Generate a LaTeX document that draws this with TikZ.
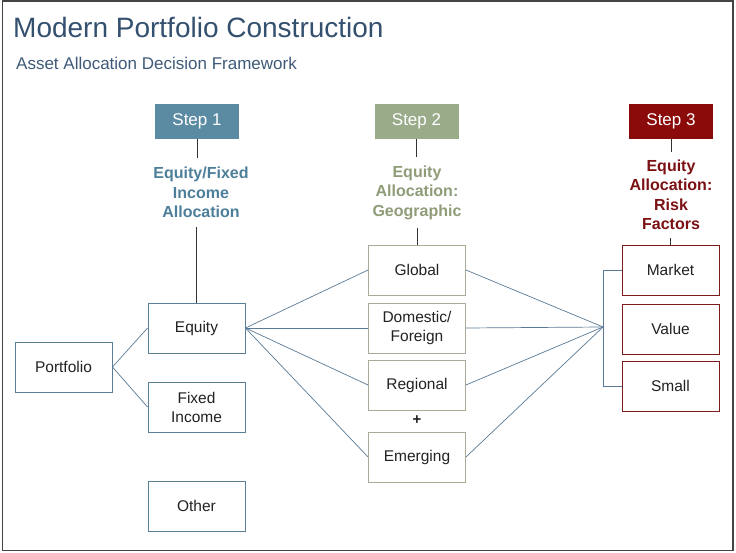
\documentclass[tikz,border=0pt]{standalone}
\usepackage{fontspec}
\setmainfont{Liberation Sans}
\definecolor{titleblue}{HTML}{33506F}
\definecolor{subblue}{HTML}{3F5A78}
\definecolor{steelfill}{HTML}{5A8BA3}
\definecolor{sagefill}{HTML}{9AAB8A}
\definecolor{redfill}{HTML}{8B0A0A}
\definecolor{lab1}{HTML}{4E7F9A}
\definecolor{lab2}{HTML}{8E9C78}
\definecolor{lab3}{HTML}{7B1113}
\definecolor{bord1}{HTML}{5C7F99}
\definecolor{bord2}{HTML}{A9AD97}
\definecolor{bord3}{HTML}{7F1A1A}
\definecolor{conn}{HTML}{5B7A95}
\definecolor{boxtext}{HTML}{222222}
\definecolor{frame}{HTML}{444444}
\tikzset{
  stepbox/.style={minimum width=84pt, minimum height=35pt, inner sep=0pt, text=white, font=\fontsize{17}{20}\selectfont},
  catbox/.style={draw, line width=0.9pt, minimum width=97pt, minimum height=50pt, inner sep=0pt, text=boxtext, align=center, font=\fontsize{15.5}{19}\selectfont},
  steplabel/.style={align=center, inner xsep=0pt, font=\bfseries\fontsize{16}{19.5}\selectfont},
  link/.style={draw=conn, line width=0.7pt},
  stem/.style={draw=black!80, line width=0.9pt}
}
\begin{document}
\begin{tikzpicture}[x=1pt,y=-1pt]
\useasboundingbox (0,0) rectangle (736,553);
\fill[white] (0,0) rectangle (736,553);
\draw[frame, line width=1.2pt] (2.5,1) rectangle (733,550.5);

\node[anchor=base west, text=titleblue, font=\fontsize{28}{32}\selectfont, inner sep=0pt] (title) at (13,38) {Modern Portfolio Construction};
\node[anchor=base west, text=subblue, font=\fontsize{17}{20}\selectfont, inner sep=0pt] (sub) at (16,70) {Asset Allocation Decision Framework};

% step boxes
\node[stepbox, fill=steelfill] (s1) at (197,121.5) {Step 1};
\node[stepbox, fill=sagefill] (s2) at (416.5,121.5) {Step 2};
\node[stepbox, fill=redfill] (s3) at (671,121.5) {Step 3};

% labels
\node[steplabel, text=lab1, inner ysep=9pt] (l1) at (201,192.5) {Equity/Fixed\\Income\\Allocation};
\node[steplabel, text=lab2, inner ysep=8pt] (l2) at (417,192.5) {Equity\\Allocation:\\Geographic};
\node[steplabel, text=lab3, inner ysep=8pt] (l3) at (671,195) {Equity\\Allocation:\\Risk\\Factors};

% left column
\node[catbox, draw=bord1] (port) at (63.5,367) {Portfolio};
\node[catbox, draw=bord1] (eq) at (196.5,328) {Equity};
\node[catbox, draw=bord1] (fi) at (196.5,407) {Fixed\\Income};
\node[catbox, draw=bord1] (oth) at (196.5,506) {Other};

% middle column
\node[catbox, draw=bord2] (glob) at (417,270) {Global};
\node[catbox, draw=bord2] (dom) at (417,328) {Domestic/\\Foreign};
\node[catbox, draw=bord2] (reg) at (417,385) {Regional};
\node[catbox, draw=bord2] (emg) at (417,457) {Emerging};
\node[text=boxtext, font=\bfseries\fontsize{15}{16}\selectfont, inner sep=0pt] (plus) at (417,420) {+};

% right column
\node[catbox, draw=bord3] (mkt) at (670.5,270) {Market};
\node[catbox, draw=bord3] (val) at (670.5,329) {Value};
\node[catbox, draw=bord3] (sml) at (670.5,386) {Small};

\coordinate (hub) at (603,327);

% stems
\draw[stem] (s1.south) -- (l1.north -| s1.south);
\draw[stem] (l1.south -| eq.north) -- (eq.north);
\draw[stem] (s2.south) -- (l2.north -| s2.south);
\draw[stem] (l2.south -| glob.north) -- (glob.north);
\draw[stem] (s3.south) -- (l3.north -| s3.south);
\draw[stem] (l3.south -| mkt.north) -- (mkt.north);

% connectors
\draw[link] (port.east) -- (eq.west);
\draw[link] (port.east) -- (fi.west);
\draw[link] (eq.east) -- (glob.west);
\draw[link] (eq.east) -- (dom.west);
\draw[link] (eq.east) -- (reg.west);
\draw[link] (eq.east) -- (emg.west);
\draw[link] (glob.east) -- (hub);
\draw[link] (dom.east) -- (hub);
\draw[link] (reg.east) -- (hub);
\draw[link] (emg.east) -- (hub);
\draw[link] (mkt.west) -- (mkt.west -| hub) -- (sml.west -| hub) -- (sml.west);
\end{tikzpicture}
\end{document}
